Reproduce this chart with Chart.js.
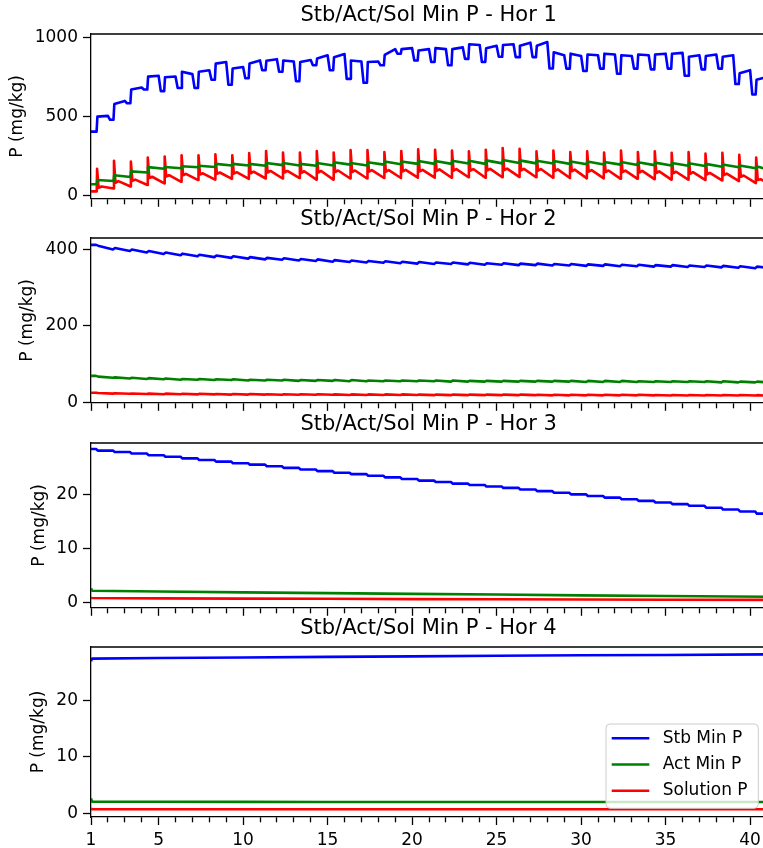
<!DOCTYPE html>
<html>
<head>
<meta charset="utf-8">
<script src="https://cdn.jsdelivr.net/npm/chart.js@4.4.1/dist/chart.umd.min.js"></script>
<style>
html, body { margin: 0; padding: 0; background: #fff; width: 763px; height: 848px; overflow: hidden; position: relative; }
canvas.panel { position: absolute; left: 0; }
</style>
</head>
<body>
<canvas id="c1" class="panel"></canvas>
<canvas id="c2" class="panel"></canvas>
<canvas id="c3" class="panel"></canvas>
<canvas id="c4" class="panel"></canvas>
<script>
// ---------------- DATA ----------------
const seriesNames = ['Stb Min P', 'Act Min P', 'Solution P'];
const panelTitles = ['Stb/Act/Sol Min P - Hor 1', 'Stb/Act/Sol Min P - Hor 2', 'Stb/Act/Sol Min P - Hor 3', 'Stb/Act/Sol Min P - Hor 4'];
const yAxisTitle = 'P (mg/kg)';
const years = [1,2,3,4,5,6,7,8,9,10,11,12,13,14,15,16,17,18,19,20,21,22,23,24,25,26,27,28,29,30,31,32,33,34,35,36,37,38,39,40];
const xMinorTicks = [1,2,3,4,5,6,7,8,9,10,11,12,13,14,15,16,17,18,19,20,21,22,23,24,25,26,27,28,29,30,31,32,33,34,35,36,37,38,39,40,41];
const xMajorTicks = [1,5,10,15,20,25,30,35,40];
const yTicks1 = [0, 500, 1000];
const yTicks2 = [0, 200, 400];
const yTicks3 = [0, 10, 20];
const yTicks4 = [0, 10, 20];

// Hor 1 - Stb Min P (yearly: value after spring rise, end of plateau, winter dip)
const h1StbStart = 405;
const h1StbRise = [500,580,672,754,750,785,785,837,806,837,855,857,847,870,878,857,847,892,929,920,935,929,960,935,955,950,950,909,900,895,900,890,895,895,900,880,885,880,775,734];
const h1StbPlateau = [505,600,685,760,755,770,795,847,815,857,865,850,860,890,898,850,850,929,935,929,929,940,955,950,960,970,974,890,885,890,895,885,890,900,905,890,895,890,795,752];
const h1StbDip = [480,585,672,662,682,682,734,703,744,795,785,725,826,795,740,715,826,900,857,847,826,867,847,880,878,878,806,805,790,805,772,805,800,805,760,800,805,707,641];
// Hor 1 - Act Min P
const h1ActStart = 70;
const h1ActHigh = [97,128,152,179,180,185,188,200,200,200,205,205,200,205,210,205,210,215,215,218,218,220,220,222,225,222,220,218,215,215,212,212,210,208,206,204,200,196,190,185];
const h1ActLow = [91,117,145,169,172,178,180,190,190,188,192,190,188,190,195,190,195,198,200,200,200,202,200,203,205,203,202,200,198,196,195,193,192,190,188,186,182,178,172,165];
// Hor 1 - Solution P
const h1SolStart = 25;
const h1SolPeak = [169,220,214,240,247,255,255,261,255,268,282,272,272,282,272,288,288,275,282,292,290,285,280,290,300,295,280,285,275,280,272,285,275,280,270,275,265,270,258,240];
const h1SolMid = [48,80,92,110,120,128,132,136,138,140,145,145,143,145,148,148,150,150,152,152,155,157,157,158,160,158,157,155,153,150,148,147,145,142,140,137,133,128,118,98];
const h1SolBump = [56,90,100,118,128,136,140,145,147,150,155,155,153,155,158,158,160,160,162,162,165,167,167,168,170,168,167,165,163,160,158,157,155,152,150,147,143,138,126,102];
const h1SolLow = [44,56,66,76,86,97,100,105,105,107,107,110,100,100,107,107,110,110,112,112,112,115,112,115,117,115,112,110,108,108,105,105,103,100,100,98,95,90,78,82];

// Hor 2
const h2StbStart = 412;
const h2StbHi = [410,404,400,396,392,389,386,384,382,380,378,377,375,374,372,371,370,369,368,367,366,366,365,364,364,363,363,362,362,361,361,360,360,359,359,358,358,357,356,355];
const h2StbLo = [400,396,392,388,385,382,380,378,376,374,373,371,370,368,367,366,365,364,363,362,362,361,360,360,359,359,358,358,357,357,356,356,355,355,354,354,353,352,351,352];
const h2ActStart = 69;
const h2ActHi = [67,65,64,63,62,61,61,60,60,59,59,59,58,58,58,58,57,57,57,57,57,57,56,56,56,56,56,56,56,56,56,56,55,55,55,55,55,55,54,54];
const h2ActLo = [64,62,61,60,59,59,58,58,57,57,57,56,56,56,55,55,55,55,55,55,54,54,54,54,54,54,54,54,53,53,53,53,53,53,53,53,52,52,52,52];
const h2SolStart = 25;
const h2SolHi = [24,23.5,23,22.5,22.5,22,22,21.5,21.5,21.5,21,21,21,21,20.5,20.5,20.5,20.5,20.5,20,20,20,20,20,20,20,19.5,19.5,19.5,19.5,19.5,19.5,19.5,19,19,19,19,19,19,18.5];
const h2SolLo = [22.5,22,21.5,21,21,20.5,20.5,20,20,20,19.5,19.5,19.5,19.5,19,19,19,19,19,18.5,18.5,18.5,18.5,18.5,18.5,18.5,18,18,18,18,18,18,18,17.5,17.5,17.5,17.5,17.5,17.5,17];

// Hor 3
const h3StbStart = 28.35;
const h3StbLevels = [28.05,27.8,27.5,27.2,26.9,26.6,26.3,26.0,25.7,25.45,25.15,24.85,24.55,24.25,23.95,23.7,23.4,23.1,22.8,22.5,22.25,21.95,21.7,21.4,21.15,20.85,20.55,20.25,19.95,19.65,19.35,19.05,18.75,18.45,18.15,17.85,17.5,17.15,16.8,16.4];
const sparseX = [1, 1.06, 5, 10, 15, 20, 25, 30, 35, 41];
const h3Act = [2.6, 2.15, 2.0, 1.85, 1.72, 1.58, 1.45, 1.3, 1.18, 1.05];
const h3Sol = [0.85, 0.8, 0.75, 0.7, 0.66, 0.61, 0.57, 0.53, 0.5, 0.46];

// Hor 4
const h4Stb = [26.9, 27.35, 27.45, 27.55, 27.65, 27.75, 27.85, 27.95, 28.0, 28.1];
const h4Act = [2.7, 2.1, 2.08, 2.07, 2.06, 2.06, 2.05, 2.05, 2.05, 2.05];
const h4Sol = [0.9, 0.78, 0.77, 0.76, 0.76, 0.76, 0.76, 0.76, 0.76, 0.76];

// ---------------- PATH BUILDERS (time placement of the read values) ----------------
function stbPath(start, rise, plateau, dip) {
  const pts = [{x: 1, y: start}];
  years.forEach((n, i) => {
    pts.push({x: n + 0.33, y: i === 0 ? start : dip[i - 1]});
    pts.push({x: n + 0.38, y: rise[i]});
    if (i < dip.length) {
      pts.push({x: n + 1.0, y: plateau[i]});
      pts.push({x: n + 1.13, y: dip[i]});
    } else {
      pts.push({x: 41, y: plateau[i]});
    }
  });
  return pts;
}
function sawPath(start, hi, lo, t0, t1) {
  const pts = [{x: 1, y: start}];
  years.forEach((n, i) => {
    pts.push({x: n + t0, y: i === 0 ? start : lo[i - 1]});
    pts.push({x: n + t1, y: hi[i]});
  });
  pts.push({x: 41, y: lo[lo.length - 1]});
  return pts;
}
function spikePath(start, peak, mid, bump, low) {
  const pts = [{x: 1, y: start}];
  years.forEach((n, i) => {
    pts.push({x: n + 0.34, y: i === 0 ? start : low[i - 1]});
    pts.push({x: n + 0.36, y: peak[i]});
    pts.push({x: n + 0.45, y: mid[i]});
    pts.push({x: n + 0.62, y: bump[i]});
  });
  pts.push({x: 41, y: low[low.length - 1]});
  return pts;
}
function stepPath(start, levels) {
  const pts = [{x: 1, y: start}];
  years.forEach((n, i) => {
    pts.push({x: n + 0.3, y: i === 0 ? start : levels[i - 1]});
    pts.push({x: n + 0.4, y: levels[i]});
  });
  pts.push({x: 41, y: levels[levels.length - 1]});
  return pts;
}
function sparsePath(xs, ys) { return xs.map((x, i) => ({x: x, y: ys[i]})); }

const panelData = [
  [stbPath(h1StbStart, h1StbRise, h1StbPlateau, h1StbDip),
   sawPath(h1ActStart, h1ActHigh, h1ActLow, 0.34, 0.37),
   spikePath(h1SolStart, h1SolPeak, h1SolMid, h1SolBump, h1SolLow)],
  [sawPath(h2StbStart, h2StbHi, h2StbLo, 0.3, 0.42),
   sawPath(h2ActStart, h2ActHi, h2ActLo, 0.3, 0.42),
   sawPath(h2SolStart, h2SolHi, h2SolLo, 0.3, 0.42)],
  [stepPath(h3StbStart, h3StbLevels), sparsePath(sparseX, h3Act), sparsePath(sparseX, h3Sol)],
  [sparsePath(sparseX, h4Stb), sparsePath(sparseX, h4Act), sparsePath(sparseX, h4Sol)]
];
const panelYTicks = [yTicks1, yTicks2, yTicks3, yTicks4];

// ---------------- STYLE / LAYOUT ----------------
const seriesColors = ['#0000ff', '#008000', '#ff0000'];
const yLimits = [[-22, 1025], [-1.5, 430], [-1.0, 29.45], [-0.6, 29.4]];
const panelTops = [0, 204, 409, 613];
const panelHeights = [214, 214, 214, 235];
const padLeft = [7.3, 17.8, 29.3, 28.8];
const FONT = "'DejaVu Sans', sans-serif";

Chart.defaults.font.family = FONT;
Chart.defaults.color = '#000';

const frame = {
  id: 'frame',
  afterDatasetsDraw(chart) {
    const {ctx, chartArea: a} = chart;
    ctx.save();
    ctx.strokeStyle = '#000';
    ctx.lineWidth = 1.3;
    ctx.beginPath();
    ctx.moveTo(a.left, a.top);
    ctx.lineTo(a.right, a.top);
    ctx.lineTo(a.right, a.bottom);
    ctx.stroke();
    ctx.restore();
  }
};

const boxLegend = {
  id: 'boxLegend',
  afterDraw(chart) {
    const {ctx, chartArea: a} = chart;
    const w = 152.3, h = 84.3, r = 4;
    const right = a.right - 8.7, bottom = a.bottom - 8.7;
    const left = right - w, top = bottom - h;
    ctx.save();
    ctx.beginPath();
    ctx.moveTo(left + r, top);
    ctx.lineTo(right - r, top);
    ctx.arcTo(right, top, right, top + r, r);
    ctx.lineTo(right, bottom - r);
    ctx.arcTo(right, bottom, right - r, bottom, r);
    ctx.lineTo(left + r, bottom);
    ctx.arcTo(left, bottom, left, bottom - r, r);
    ctx.lineTo(left, top + r);
    ctx.arcTo(left, top, left + r, top, r);
    ctx.closePath();
    ctx.fillStyle = 'rgba(255,255,255,0.8)';
    ctx.fill();
    ctx.strokeStyle = '#cccccc';
    ctx.lineWidth = 1;
    ctx.stroke();
    ctx.font = '17px ' + FONT;
    ctx.textBaseline = 'middle';
    ctx.textAlign = 'left';
    chart.data.datasets.forEach((ds, i) => {
      const y = top + 14.3 + i * 26.2;
      ctx.strokeStyle = ds.borderColor;
      ctx.lineWidth = 2.5;
      ctx.beginPath();
      ctx.moveTo(left + 5.7, y);
      ctx.lineTo(left + 43.3, y);
      ctx.stroke();
      ctx.fillStyle = '#000';
      ctx.fillText(ds.label, left + 56.7, y);
    });
    ctx.restore();
  }
};

function makePanel(k) {
  const canvas = document.getElementById('c' + (k + 1));
  const p = padLeft[k];
  const W = Math.round(857 - p);
  const H = panelHeights[k];
  const last = k === 3;
  canvas.width = W; canvas.height = H;
  canvas.style.width = W + 'px'; canvas.style.height = H + 'px';
  canvas.style.top = panelTops[k] + 'px';
  const rightPad = W - 767;
  const tickGrid = {
    display: true, drawOnChartArea: false, drawTicks: true, tickLength: 8,
    tickColor: '#000', tickWidth: 1.3, color: '#000'
  };
  new Chart(canvas, {
    type: 'line',
    data: {
      datasets: panelData[k].map((d, i) => ({
        label: seriesNames[i], data: d, borderColor: seriesColors[i], backgroundColor: seriesColors[i],
        borderWidth: 2.6, pointRadius: 0, pointHoverRadius: 0, fill: false, tension: 0,
        borderJoinStyle: 'round', xAxisID: 'x', yAxisID: 'y'
      }))
    },
    options: {
      responsive: false, maintainAspectRatio: false, animation: false,
      events: [],
      layout: {padding: {left: p, right: 0, top: 0, bottom: 0}},
      plugins: {
        legend: {display: false},
        tooltip: {enabled: false},
        title: {display: true, text: panelTitles[k], color: '#000',
                font: {size: 21, weight: 'normal', family: FONT}, padding: {top: 3.4, bottom: 5.4}}
      },
      scales: {
        x: {
          type: 'linear', position: 'bottom', min: 1, max: 41,
          afterBuildTicks: s => { s.ticks = xMinorTicks.map(v => ({value: v})); },
          afterFit: s => { s.height = last ? 31 : 10; },
          grid: Object.assign({}, tickGrid, {
            tickBorderDash: c => (c.tick && xMajorTicks.includes(c.tick.value)) ? [] : [5, 60]
          }),
          border: {display: true, color: '#000', width: 1.3},
          ticks: {display: last, autoSkip: false, maxRotation: 0, minRotation: 0, padding: 5,
                  color: '#000', font: {size: 17, family: FONT},
                  callback: v => xMajorTicks.includes(v) ? String(v) : ''}
        },
        y: {
          type: 'linear', position: 'left', min: yLimits[k][0], max: yLimits[k][1],
          afterBuildTicks: s => { s.ticks = panelYTicks[k].map(v => ({value: v})); },
          afterFit: s => { s.width = 91 - p; },
          grid: tickGrid,
          border: {display: true, color: '#000', width: 1.3},
          ticks: {padding: 5, color: '#000', font: {size: 17, family: FONT}, callback: v => String(v)},
          title: {display: true, text: yAxisTitle, color: '#000', font: {size: 17, family: FONT}, padding: 0}
        },
        yR: {
          type: 'linear', position: 'right', display: true,
          grid: {display: false, drawTicks: false}, border: {display: false},
          ticks: {display: false},
          afterFit: s => { s.width = rightPad; }
        }
      }
    },
    plugins: last ? [frame, boxLegend] : [frame]
  });
}

[0, 1, 2, 3].forEach(makePanel);
</script>
</body>
</html>
